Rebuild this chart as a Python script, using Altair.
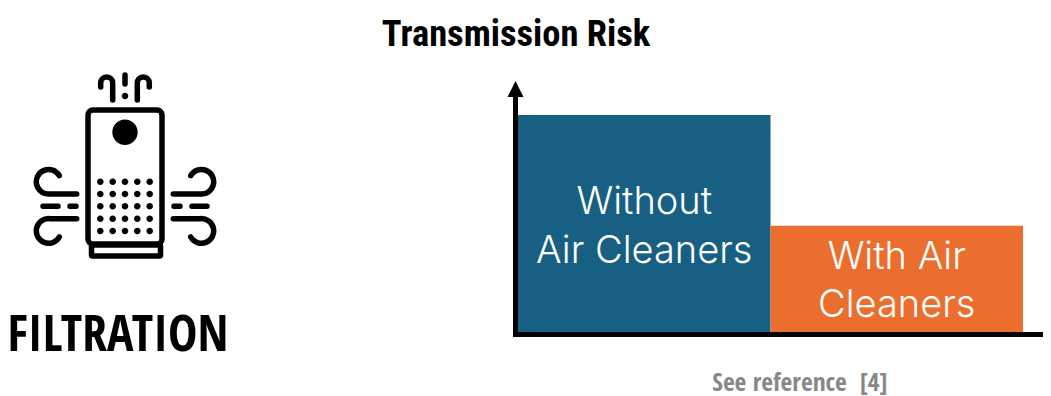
import altair as alt
import pandas as pd

categories = ["Without Air Cleaners", "With Air Cleaners"]
risk = [100, 49]
colors = ["#176083", "#EB6E2E"]
label_first = ["Without", "With Air"]
label_second = ["Air Cleaners", "Cleaners"]
title_text = "Transmission Risk"
caption_text = "See reference \u00a0[4]"
icon_label = "FILTRATION"

M = 8  # page margin
NARROW = "Open Sans Condensed"
TITLE_FONT = "Roboto Condensed"
LIGHT = "Inter"

df = pd.DataFrame({"cat": categories, "risk": risk, "first": label_first, "second": label_second})
one = pd.DataFrame({"a": [0]})

xs = alt.Scale(domain=categories, range=[518 - M, 1023 - M], paddingInner=0, paddingOuter=0)
ys = alt.Scale(domain=[0, 100], range=[332 - M, 115 - M])
xe = alt.X("cat:N", scale=xs, axis=None, sort=categories)
ye = alt.Y("risk:Q", scale=ys, axis=None)

bars = alt.Chart(df).mark_bar(cornerRadius=0).encode(
    x=xe, y=ye,
    color=alt.Color("cat:N", scale=alt.Scale(domain=categories, range=colors), legend=None),
)

df_w = df.iloc[[0]]
df_o = df.iloc[[1]]


def lab2(d, field, y):
    return alt.Chart(d).mark_text(
        font=LIGHT, fontWeight=300, fontSize=38, color="white", baseline="alphabetic", align="center"
    ).encode(x=xe, y=alt.value(y - M), text=f"{field}:N")


labels = [lab2(df_w, "first", 214), lab2(df_w, "second", 263), lab2(df_o, "first", 269), lab2(df_o, "second", 317)]

y_axis = alt.Chart(one).mark_rule(color="black", strokeWidth=5).encode(
    x=alt.value(515.5 - M), y=alt.value(95 - M), y2=alt.value(337 - M))
x_axis = alt.Chart(one).mark_rule(color="black", strokeWidth=5).encode(
    y=alt.value(334.5 - M), x=alt.value(513 - M), x2=alt.value(1043 - M))
arrow = alt.Chart(one).mark_point(shape="M-1,1L0,-1L1,1Z", filled=True, fill="black", opacity=1, size=256, strokeWidth=0).encode(
    x=alt.value(515.5 - M), y=alt.value(89 - M))


def text_mark(s, x, y, size, color, font=NARROW, weight="bold", align="center"):
    return alt.Chart(pd.DataFrame({"t": [s]})).mark_text(
        font=font, fontWeight=weight, fontSize=size, color=color, align=align, baseline="alphabetic"
    ).encode(x=alt.value(x - M), y=alt.value(y - M), text="t:N")


title = text_mark(title_text, 516, 46, 36.5, "black", font=TITLE_FONT)
caption = text_mark(caption_text, 800, 391, 25.5, "#888888")
big = text_mark(icon_label, 118, 351, 49.5, "black")

# Icon: path coordinates are pixel-like, normalised around its centre
CX, CY, R = 125, 165, 100


def P(x, y):
    return f"{(x - CX) / R:.4f},{(y - CY) / R:.4f}"


def A(r, large, sweep, x, y):
    rr = r / R
    return f"A{rr:.4f},{rr:.4f} 0 {large} {sweep} {P(x, y)}"


def rrect(x0, y0, x1, y1, r):
    return (f"M{P(x0 + r, y0)}L{P(x1 - r, y0)}{A(r,0,1,x1,y0 + r)}L{P(x1, y1 - r)}{A(r,0,1,x1 - r,y1)}"
            f"L{P(x0 + r, y1)}{A(r,0,1,x0,y1 - r)}L{P(x0, y0 + r)}{A(r,0,1,x0 + r,y0)}Z")


def circle(x, y, r):
    return f"M{P(x - r, y)}{A(r,1,1,x + r,y)}{A(r,1,1,x - r,y)}Z"


stroke_path = rrect(88, 110, 162, 244, 5) + rrect(91.5, 245, 160.5, 256, 1)
stroke_path += f"M{P(125, 75)}L{P(125, 84)}"
stroke_path += f"M{P(112.7, 100)}L{P(112.7, 83)}{A(6,0,0,100.7,83)}L{P(100.7, 87)}"
stroke_path += f"M{P(137.3, 100)}L{P(137.3, 83)}{A(6,0,1,149.3,83)}L{P(149.3, 87)}"
for mirror in (False, True):
    f = (lambda x: 250 - x) if mirror else (lambda x: x)
    sw_top = 1 if mirror else 0
    stroke_path += f"M{P(f(76.7), 194)}L{P(f(50), 194)}{A(12.3,1,1 - sw_top,f(59.3),175.7)}"
    stroke_path += f"M{P(f(76.7), 218.7)}L{P(f(50), 218.7)}{A(12.3,1,sw_top,f(59.3),237)}"
    stroke_path += f"M{P(f(43), 206.3)}L{P(f(58), 206.3)}M{P(f(70), 206.3)}L{P(f(76), 206.3)}"

fill_path = circle(125, 132.3, 12.7) + circle(125, 96, 3.3)
for dx in (100.3, 112.7, 125, 137.3, 149.7):
    for dy in (181.7, 194, 206.3, 218.7, 231):
        fill_path += circle(dx, dy, 3.3)

icon_size = (2 * R) ** 2
icon_stroke = alt.Chart(one).mark_point(
    shape=stroke_path, size=icon_size, filled=False, stroke="black", strokeWidth=5.5, strokeCap="round", opacity=1
).encode(x=alt.value(CX - M), y=alt.value(CY - M))
icon_fill = alt.Chart(one).mark_point(
    shape=fill_path, size=icon_size, filled=True, fill="black", strokeWidth=0, opacity=1
).encode(x=alt.value(CX - M), y=alt.value(CY - M))

chart = alt.layer(
    bars, *labels, y_axis, x_axis, arrow, title, caption, big, icon_stroke, icon_fill
).properties(
    width=1035, height=392, padding=0, autosize=alt.AutoSizeParams(type="none"), background="white"
).configure_view(stroke=None)

chart.save("out.html", embed_options={"renderer": "svg", "actions": False})
